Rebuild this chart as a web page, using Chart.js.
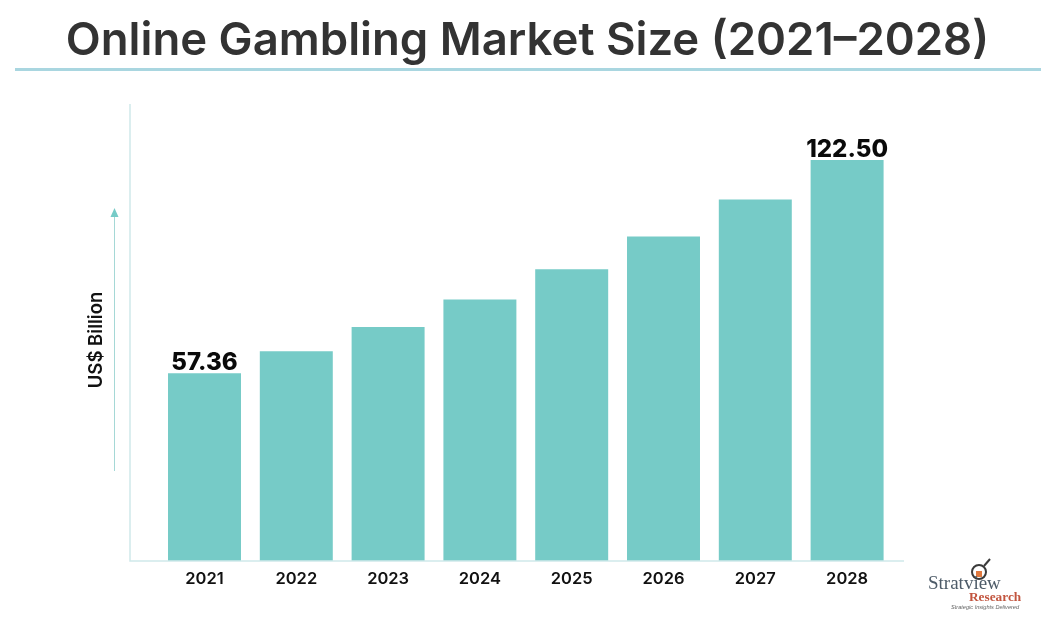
<!DOCTYPE html>
<html>
<head>
<meta charset="utf-8">
<title>Online Gambling Market Size</title>
<script src="https://cdn.jsdelivr.net/npm/chart.js@4/dist/chart.umd.min.js"></script>
<style>
  html, body { margin: 0; padding: 0; background: #fff; }
  #wrap { position: relative; width: 1056px; height: 625px; }
</style>
</head>
<body>
<div id="wrap"><canvas id="chart" width="1056" height="625"></canvas></div>
<script>
const titleText = 'Online Gambling Market Size (2021–2028)';
const axisLabel = 'US$ Billion';
const years = ['2021', '2022', '2023', '2024', '2025', '2026', '2027', '2028'];
const marketSize = [57.36, 64.1, 71.5, 79.9, 89.1, 99.1, 110.4, 122.5];
const valueLabels = ['57.36', '', '', '', '', '', '', '122.50'];

const TEAL = '#76cbc7';
const AXIS = '#cfe9ea';
const FONT = 'Inter, "Noto Sans", sans-serif';

// everything around the plot: heading, axis lines, arrow, value labels, logo
const decorations = {
    id: 'decorations',
    afterDatasetsDraw(chart) {
        const ctx = chart.ctx;
        const area = chart.chartArea;
        ctx.save();

        ctx.fillStyle = '#333333';
        ctx.font = '600 45.5px ' + FONT;
        ctx.textAlign = 'center';
        ctx.textBaseline = 'alphabetic';
        ctx.fillText(titleText, 527.5, 55);

        ctx.strokeStyle = '#a9d6e0';
        ctx.lineWidth = 3;
        ctx.beginPath();
        ctx.moveTo(15, 69.5);
        ctx.lineTo(1041, 69.5);
        ctx.stroke();

        // axis lines run past the first and last category
        ctx.strokeStyle = AXIS;
        ctx.lineWidth = 1.5;
        ctx.beginPath();
        ctx.moveTo(130, area.top);
        ctx.lineTo(130, area.bottom);
        ctx.lineTo(904, area.bottom);
        ctx.stroke();

        // growth arrow
        ctx.strokeStyle = '#a5d8d6';
        ctx.lineWidth = 1;
        ctx.beginPath();
        ctx.moveTo(114.5, 471);
        ctx.lineTo(114.5, 214);
        ctx.stroke();
        ctx.fillStyle = TEAL;
        ctx.beginPath();
        ctx.moveTo(114.5, 208);
        ctx.lineTo(118.5, 217);
        ctx.lineTo(110.5, 217);
        ctx.closePath();
        ctx.fill();

        // rotated axis label
        ctx.save();
        ctx.translate(96, 340);
        ctx.rotate(-Math.PI / 2);
        ctx.fillStyle = '#111111';
        ctx.font = '600 18.5px ' + FONT;
        ctx.textAlign = 'center';
        ctx.textBaseline = 'middle';
        ctx.fillText(axisLabel, 0, 0);
        ctx.restore();

        // value labels on first and last bar only
        const bars = chart.getDatasetMeta(0).data;
        ctx.fillStyle = '#0a0a0a';
        ctx.font = '800 24px ' + FONT;
        ctx.textAlign = 'center';
        ctx.textBaseline = 'alphabetic';
        bars.forEach((bar, i) => {
            if (valueLabels[i]) ctx.fillText(valueLabels[i], bar.x, bar.y - 3);
        });

        // logo
        ctx.strokeStyle = '#3a3a3a';
        ctx.lineWidth = 2;
        ctx.beginPath();
        ctx.arc(979, 572, 7, 0, Math.PI * 2);
        ctx.stroke();
        ctx.beginPath();
        ctx.moveTo(984, 566);
        ctx.lineTo(990, 559);
        ctx.stroke();
        ctx.fillStyle = '#e0793f';
        ctx.fillRect(976, 571, 6, 6);

        ctx.textAlign = 'left';
        ctx.fillStyle = '#4d5b68';
        ctx.font = '19px "Liberation Serif", serif';
        ctx.fillText('Stratview', 928, 589);
        ctx.fillStyle = '#c2553f';
        ctx.font = 'bold 13.3px "Liberation Serif", serif';
        ctx.fillText('Research', 969, 601);
        ctx.fillStyle = '#666666';
        ctx.font = 'italic 5.6px "Liberation Sans", sans-serif';
        ctx.fillText('Strategic Insights Delivered', 951, 609);
        ctx.restore();
    }
};

new Chart(document.getElementById('chart').getContext('2d'), {
    type: 'bar',
    data: {
        labels: years,
        datasets: [{
            data: marketSize,
            backgroundColor: TEAL,
            borderWidth: 0,
            barPercentage: 0.795,
            categoryPercentage: 1
        }]
    },
    options: {
        responsive: false,
        animation: false,
        layout: { padding: { left: 158.6, right: 163, top: 104, bottom: 0 } },
        plugins: { legend: { display: false }, tooltip: { enabled: false } },
        scales: {
            x: {
                grid: { display: false },
                border: { display: false },
                ticks: {
                    color: '#111111',
                    padding: 0,
                    maxRotation: 0,
                    font: { family: FONT, size: 16.5, weight: '600' }
                },
                afterFit(scale) { scale.height = 64; }
            },
            y: { display: false, min: 0, max: 139.6 }
        }
    },
    plugins: [decorations]
});
</script>
</body>
</html>
